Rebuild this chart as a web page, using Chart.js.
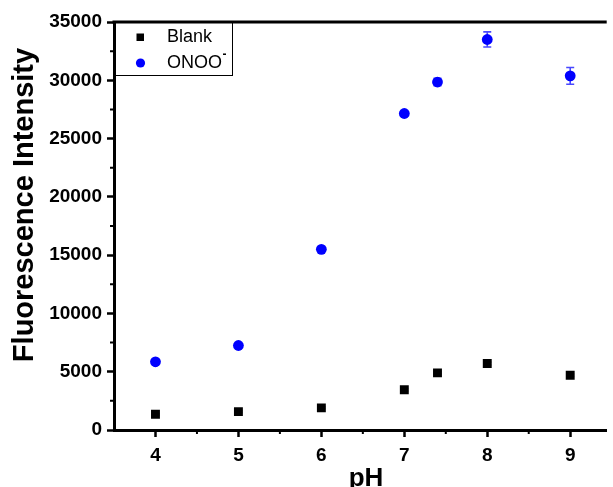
<!DOCTYPE html>
<html><head><meta charset="utf-8">
<script src="https://cdn.jsdelivr.net/npm/chart.js@4.4.1/dist/chart.umd.min.js"></script>
<style>html,body{margin:0;padding:0;background:#fff;overflow:hidden}canvas{display:block}</style>
</head><body>
<canvas id="c" width="613" height="487"></canvas>
<script>
// ---- data ----
const phValues = [4, 5, 6, 7, 7.4, 8, 9];
const blankValues = [1350, 1580, 1900, 3450, 4900, 5700, 4700];
const blankErrors = [80, 80, 80, 100, 100, 120, 100];
const onooValues = [5850, 7250, 15500, 27150, 29850, 33500, 30380];
const onooErrors = [150, 150, 150, 200, 320, 650, 720];
const xTickValues = [4, 5, 6, 7, 8, 9];
const xMinorTicks = [4.5, 5.5, 6.5, 7.5, 8.5];
const yTickValues = [0, 5000, 10000, 15000, 20000, 25000, 30000, 35000];
const yMinorTicks = [2500, 7500, 12500, 17500, 22500, 27500, 32500];
const seriesLabels = ['Blank', 'ONOO'];
const xTitle = 'pH';
const yTitle = 'Fluorescence Intensity';

const FONT = '"Liberation Sans", Arial, Helvetica, sans-serif';

const errorBars = {
  id: 'errorBars',
  beforeDatasetsDraw(chart) {
    const ctx = chart.ctx, y = chart.scales.y;
    chart.data.datasets.forEach((ds, i) => {
      const meta = chart.getDatasetMeta(i);
      ctx.save();
      ctx.strokeStyle = ds.errColor;
      ctx.lineWidth = 1.6;
      meta.data.forEach((pt, j) => {
        const e = ds.errors[j], v = ds.data[j].y;
        const yt = y.getPixelForValue(v + e), yb = y.getPixelForValue(v - e);
        ctx.beginPath();
        ctx.moveTo(pt.x, yt); ctx.lineTo(pt.x, yb);
        ctx.moveTo(pt.x - 4, yt); ctx.lineTo(pt.x + 4, yt);
        ctx.moveTo(pt.x - 4, yb); ctx.lineTo(pt.x + 4, yb);
        ctx.stroke();
      });
      ctx.restore();
    });
  }
};

const decorations = {
  id: 'decorations',
  afterDraw(chart) {
    const ctx = chart.ctx, a = chart.chartArea;
    const xs = chart.scales.x, ys = chart.scales.y;
    ctx.save();
    // top frame line
    ctx.strokeStyle = '#000';
    ctx.lineWidth = 3;
    ctx.beginPath();
    ctx.moveTo(a.left - 1.5, a.top); ctx.lineTo(a.right, a.top);
    ctx.stroke();
    // minor ticks
    ctx.lineWidth = 2;
    ctx.beginPath();
    yMinorTicks.forEach(v => {
      const p = ys.getPixelForValue(v);
      ctx.moveTo(a.left, p); ctx.lineTo(a.left - 4, p);
    });
    xMinorTicks.forEach(v => {
      const p = xs.getPixelForValue(v);
      ctx.moveTo(p, a.bottom); ctx.lineTo(p, a.bottom + 4);
    });
    ctx.stroke();
    // legend
    const lx = a.left, ly = a.top, lw = 118, lh = 53.5;
    ctx.lineWidth = 1;
    ctx.strokeStyle = '#000';
    ctx.strokeRect(lx + 0.5, ly, lw, lh);
    ctx.fillStyle = '#000';
    ctx.fillRect(136.5, 33.5, 7.5, 7.5);
    ctx.fillStyle = '#0000ff';
    ctx.beginPath(); ctx.arc(140.5, 63, 4.6, 0, Math.PI * 2); ctx.fill();
    ctx.fillStyle = '#000';
    ctx.font = '18px ' + FONT;
    ctx.textBaseline = 'middle';
    ctx.textAlign = 'left';
    ctx.fillText(seriesLabels[0], 167, 37.5);
    ctx.fillText(seriesLabels[1], 167, 63.5);
    const w = ctx.measureText(seriesLabels[1]).width;
    ctx.font = 'bold 12px ' + FONT;
    ctx.fillText('-', 167 + w + 0.5, 55);
    // axis titles
    ctx.font = 'bold 26px ' + FONT;
    ctx.textAlign = 'center';
    ctx.textBaseline = 'alphabetic';
    ctx.fillText(xTitle, 366, 486);
    ctx.save();
    ctx.translate(33, 205);
    ctx.rotate(-Math.PI / 2);
    ctx.font = 'bold 29px ' + FONT;
    ctx.fillText(yTitle, 0, 0);
    ctx.restore();
    ctx.restore();
  }
};

new Chart(document.getElementById('c'), {
  type: 'scatter',
  data: {
    datasets: [
      {
        label: seriesLabels[0],
        data: phValues.map((x, i) => ({ x, y: blankValues[i] })),
        errors: blankErrors,
        errColor: 'rgba(0,0,0,0.6)',
        pointStyle: 'rect',
        pointRadius: 6.3,
        pointHoverRadius: 6.3,
        backgroundColor: '#000',
        borderColor: '#000',
        borderWidth: 0
      },
      {
        label: seriesLabels[1],
        data: phValues.map((x, i) => ({ x, y: onooValues[i] })),
        errors: onooErrors,
        errColor: 'rgba(40,40,255,0.85)',
        pointStyle: 'circle',
        pointRadius: 5.4,
        pointHoverRadius: 5.4,
        backgroundColor: '#0000ff',
        borderColor: '#0000ff',
        borderWidth: 0
      }
    ]
  },
  options: {
    responsive: false,
    animation: false,
    events: [],
    layout: { padding: { left: 0, right: 0, top: 22, bottom: 0 } },
    plugins: { legend: { display: false }, tooltip: { enabled: false } },
    scales: {
      x: {
        type: 'linear',
        min: 3.5,
        max: 9.44,
        afterBuildTicks: s => { s.ticks = xTickValues.map(v => ({ value: v })); },
        afterFit: s => { s.height = 57; },
        grid: { drawOnChartArea: false, drawTicks: true, tickLength: 7, tickWidth: 2.5, tickColor: '#000' },
        border: { display: true, width: 3, color: '#000' },
        ticks: { color: '#000', padding: 7, font: { family: FONT, size: 19, weight: 'bold' }, maxRotation: 0 }
      },
      y: {
        type: 'linear',
        min: 0,
        max: 35000,
        afterBuildTicks: s => { s.ticks = yTickValues.map(v => ({ value: v })); },
        afterFit: s => { s.width = 114; },
        grid: { drawOnChartArea: false, drawTicks: true, tickLength: 7, tickWidth: 2.5, tickColor: '#000' },
        border: { display: true, width: 3, color: '#000' },
        ticks: { color: '#000', padding: 5, font: { family: FONT, size: 19, weight: 'bold' }, callback: v => String(v) }
      }
    }
  },
  plugins: [errorBars, decorations]
});
</script>
</body></html>
